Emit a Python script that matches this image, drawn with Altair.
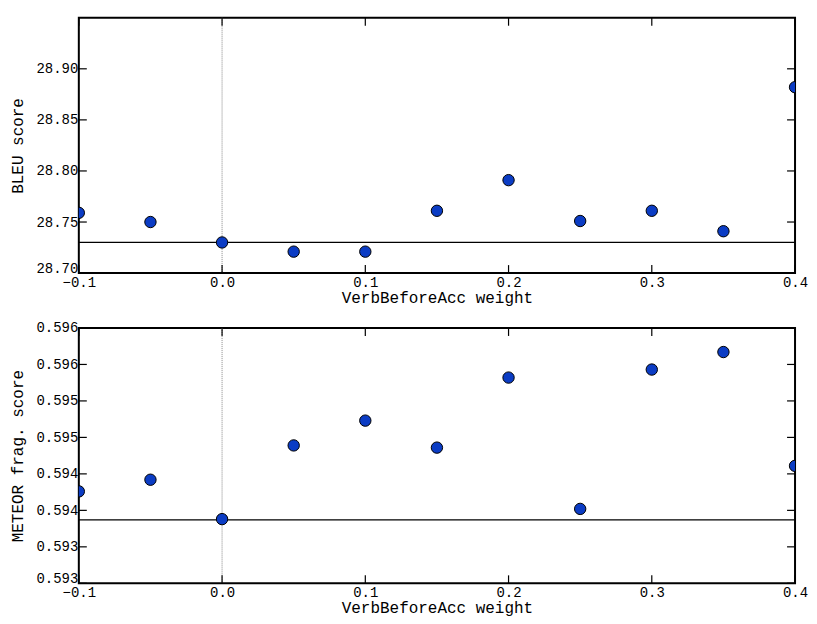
import altair as alt
import pandas as pd

weights = [-0.1, -0.05, 0.0, 0.05, 0.1, 0.15, 0.2, 0.25, 0.3, 0.35, 0.4]
bleu = [28.759, 28.750, 28.730, 28.721, 28.721, 28.761, 28.791, 28.751, 28.761, 28.741, 28.882]
meteor = [0.59426, 0.59442, 0.59388, 0.59489, 0.59523, 0.59486, 0.59582, 0.59402, 0.59593, 0.59617, 0.59461]
bleu_baseline = [28.730]
meteor_baseline = [0.59387]

x_ticks = [-0.1, 0.0, 0.1, 0.2, 0.3, 0.4]
bleu_ticks = [28.70, 28.75, 28.80, 28.85, 28.90]
meteor_ticks = [0.5930, 0.5935, 0.5940, 0.5945, 0.5950, 0.5955, 0.5960, 0.5965]

x_domain = [-0.1, 0.4]
bleu_domain = [28.70, 28.95]
meteor_domain = [0.5930, 0.5965]

FONT = "Liberation Mono"
W, H = 718, 256
TL = 8  # inward tick length
XTITLE = "VerbBeforeAcc weight"


def panel(yvals, baseline, ydomain, yticks, ytitle, ylabel_expr):
    xs = alt.Scale(domain=x_domain, nice=False, zero=False)
    ys = alt.Scale(domain=ydomain, nice=False, zero=False)
    xaxis = alt.Axis(values=x_ticks, format=".1f", labelFlush=False, ticks=False,
                     grid=False, domain=False, labelPadding=2, titlePadding=0)
    yaxis = alt.Axis(values=yticks, labelExpr=ylabel_expr, labelFlush=False, ticks=False,
                     grid=False, domain=False, labelPadding=1, titlePadding=10,
                     labelOffset={"condition": {"test": f"datum.value <= {ydomain[0]}",
                                                "value": -5},
                                  "value": 0})

    def X(f):
        return alt.X(f, scale=xs, axis=xaxis, title=XTITLE)

    def Y(f):
        return alt.Y(f, scale=ys, axis=yaxis, title=ytitle)

    df = pd.DataFrame({"w": weights, "s": yvals})
    pts = alt.Chart(df).mark_circle(
        size=130, color="#0b3cc4", stroke="black", strokeWidth=1, opacity=1, clip=True
    ).encode(x=X("w:Q"), y=Y("s:Q"))
    hline = alt.Chart(pd.DataFrame({"b": baseline})).mark_rule(
        color="black", strokeWidth=1.3
    ).encode(y=Y("b:Q"))
    vline = alt.Chart(pd.DataFrame({"z": [0.0]})).mark_rule(
        color="#888888", strokeWidth=1, strokeDash=[1, 1]
    ).encode(x=X("z:Q"))
    ydf = pd.DataFrame({"t": yticks})
    xdf = pd.DataFrame({"t": x_ticks})
    lt = alt.Chart(ydf).mark_rule(color="black", strokeWidth=1.2).encode(
        y=Y("t:Q"), x=alt.value(0), x2=alt.value(TL))
    rt = alt.Chart(ydf).mark_rule(color="black", strokeWidth=1.2).encode(
        y=Y("t:Q"), x=alt.value(W - TL), x2=alt.value(W))
    bt = alt.Chart(xdf).mark_rule(color="black", strokeWidth=1.2).encode(
        x=X("t:Q"), y=alt.value(H - TL), y2=alt.value(H))
    tt = alt.Chart(xdf).mark_rule(color="black", strokeWidth=1.2).encode(
        x=X("t:Q"), y=alt.value(0), y2=alt.value(TL))
    return alt.layer(vline, hline, lt, rt, bt, tt, pts).properties(width=W, height=H)


top = panel(bleu, bleu_baseline, bleu_domain, bleu_ticks, "BLEU score",
            "format(datum.value, '.2f')")
bottom = panel(meteor, meteor_baseline, meteor_domain, meteor_ticks, "METEOR frag. score",
               "format(floor(datum.value * 1000 + 0.000001) / 1000, '.3f')")

chart = alt.vconcat(top, bottom, spacing=14).properties(
    padding={"left": 0, "top": 7, "right": 0, "bottom": 0},
    background="white",
).configure_view(
    stroke="black", strokeWidth=2
).configure_axis(
    labelFont=FONT, titleFont=FONT, labelFontSize=14, titleFontSize=16,
    labelColor="black", titleColor="black", titleFontWeight="normal"
)

chart.save("out.html", embed_options={"renderer": "svg", "actions": False})
